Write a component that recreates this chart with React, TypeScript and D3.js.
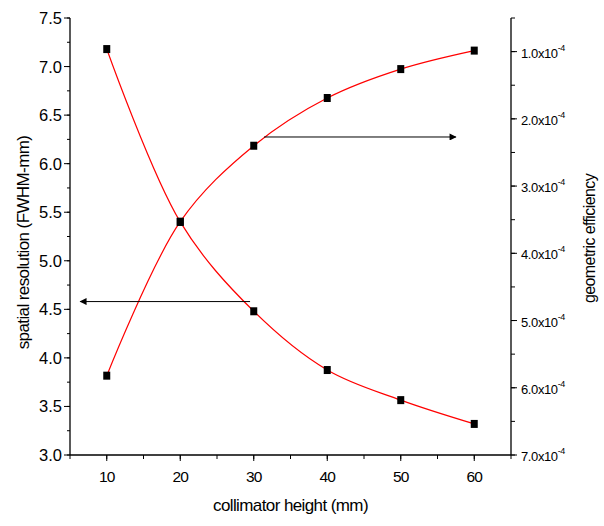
import React from "react";
import * as d3 from "d3";

const heights = [10, 20, 30, 40, 50, 60];
const resolution = [7.18, 5.40, 4.48, 3.875, 3.565, 3.32];
const efficiency = [5.82, 3.53, 2.40, 1.69, 1.26, 0.985]; // x10^-4
const xTicks = [10, 20, 30, 40, 50, 60];
const leftTicks = [3.0, 3.5, 4.0, 4.5, 5.0, 5.5, 6.0, 6.5, 7.0, 7.5];
const rightTicks = [1, 2, 3, 4, 5, 6, 7];
// annotation arrows in data units
const leftArrow = { from: 29.5, to: 6.4, value: 4.58 };
const rightArrow = { from: 31.4, to: 57.5, value: 2.27 };

const W = 604, H = 526;
const M = { left: 70, right: 511, top: 18, bottom: 455 };
const FONT = "'Liberation Sans', Arial, sans-serif";

export default function App() {
  const x = d3.scaleLinear().domain([5, 65]).range([M.left, M.right]);
  const yL = d3.scaleLinear().domain([3, 7.5]).range([M.bottom, M.top]);
  const yR = d3.scaleLinear().domain([0.5, 7]).range([M.top, M.bottom]);

  const lineL = d3
    .line<number>()
    .x((_, i) => x(heights[i]))
    .y((d) => yL(d))
    .curve(d3.curveCatmullRom.alpha(0.5));
  const lineR = d3
    .line<number>()
    .x((_, i) => x(heights[i]))
    .y((d) => yR(d))
    .curve(d3.curveCatmullRom.alpha(0.5));

  const xMinor = d3.range(5, 66, 5);
  const leftMinor = d3.range(3, 7.51, 0.25);
  const rightMinor = d3.range(0.5, 7.01, 0.5);

  const ms = 7, mh = 8;

  return (
    <svg
      width={W}
      height={H}
      style={{ position: "absolute", left: 0, top: 0, background: "#fff" }}
      fontFamily={FONT}
    >
      <defs>
        <marker id="ah" viewBox="0 0 10 10" refX="9" refY="5" markerWidth="10" markerHeight="7" markerUnits="userSpaceOnUse" orient="auto">
          <path d="M0,0 L10,5 L0,10 z" fill="#000" />
        </marker>
      </defs>

      {/* curves */}
      <path d={lineL(resolution) || ""} fill="none" stroke="#ff0000" strokeWidth={1.2} />
      <path d={lineR(efficiency) || ""} fill="none" stroke="#ff0000" strokeWidth={1.2} />

      {/* markers */}
      {resolution.map((v, i) => (
        <rect key={"l" + i} x={x(heights[i]) - ms / 2} y={yL(v) - mh / 2} width={ms} height={mh} fill="#000" />
      ))}
      {efficiency.map((v, i) => (
        <rect key={"r" + i} x={x(heights[i]) - ms / 2} y={yR(v) - mh / 2} width={ms} height={mh} fill="#000" />
      ))}

      {/* arrows */}
      <line x1={x(leftArrow.from)} x2={x(leftArrow.to)} y1={yL(leftArrow.value)} y2={yL(leftArrow.value)} stroke="#000" strokeWidth={1} markerEnd="url(#ah)" />
      <line x1={x(rightArrow.from)} x2={x(rightArrow.to)} y1={yR(rightArrow.value)} y2={yR(rightArrow.value)} stroke="#000" strokeWidth={1} markerEnd="url(#ah)" />

      {/* x axis */}
      <line x1={M.left} x2={M.right} y1={M.bottom} y2={M.bottom} stroke="#000" strokeWidth={1.3} />
      {xMinor.map((t) => (
        <line key={"xm" + t} x1={x(t)} x2={x(t)} y1={M.bottom} y2={M.bottom + 4} stroke="#000" />
      ))}
      {xTicks.map((t) => (
        <g key={"xt" + t}>
          <line x1={x(t)} x2={x(t)} y1={M.bottom} y2={M.bottom + 6} stroke="#000" />
          <text x={x(t)} y={M.bottom + 27} textAnchor="middle" fontSize={15.5} letterSpacing={-0.8} fill="#000">{t}</text>
        </g>
      ))}
      <text x={(M.left + M.right) / 2} y={511} textAnchor="middle" fontSize={17} letterSpacing={-0.6} fill="#000">
        collimator height (mm)
      </text>

      {/* left axis */}
      <line x1={M.left} x2={M.left} y1={M.top} y2={M.bottom} stroke="#000" strokeWidth={1.3} />
      {leftMinor.map((t, i) => (
        <line key={"lm" + i} x1={M.left - 3} x2={M.left} y1={yL(t)} y2={yL(t)} stroke="#000" />
      ))}
      {leftTicks.map((t) => (
        <g key={"lt" + t}>
          <line x1={M.left - 6} x2={M.left} y1={yL(t)} y2={yL(t)} stroke="#000" />
          <text x={M.left - 8} y={yL(t) + 6} textAnchor="end" fontSize={16.5} fill="#000">{t.toFixed(1)}</text>
        </g>
      ))}
      <text transform={`translate(29,${(M.top + M.bottom) / 2 + 6}) rotate(-90)`} textAnchor="middle" fontSize={17} letterSpacing={-0.6} fill="#000">
        spatial resolution (FWHM-mm)
      </text>

      {/* right axis */}
      <line x1={M.right} x2={M.right} y1={M.top} y2={M.bottom} stroke="#000" strokeWidth={1.3} />
      {rightMinor.map((t, i) => (
        <line key={"rm" + i} x1={M.right} x2={M.right + 4} y1={yR(t)} y2={yR(t)} stroke="#000" />
      ))}
      {rightTicks.map((t) => (
        <g key={"rt" + t}>
          <line x1={M.right} x2={M.right + 6} y1={yR(t)} y2={yR(t)} stroke="#000" />
          <text x={M.right + 10} y={yR(t) + 6} fontSize={13} letterSpacing={-0.4} fill="#000">
            {t.toFixed(1)}x10
            <tspan fontSize={9} dy={-7}>-4</tspan>
          </text>
        </g>
      ))}
      <text transform={`translate(595,${(M.top + M.bottom) / 2 + 2}) rotate(-90)`} textAnchor="middle" fontSize={16} letterSpacing={-0.6} fill="#000">
        geometric efficiency
      </text>
    </svg>
  );
}
